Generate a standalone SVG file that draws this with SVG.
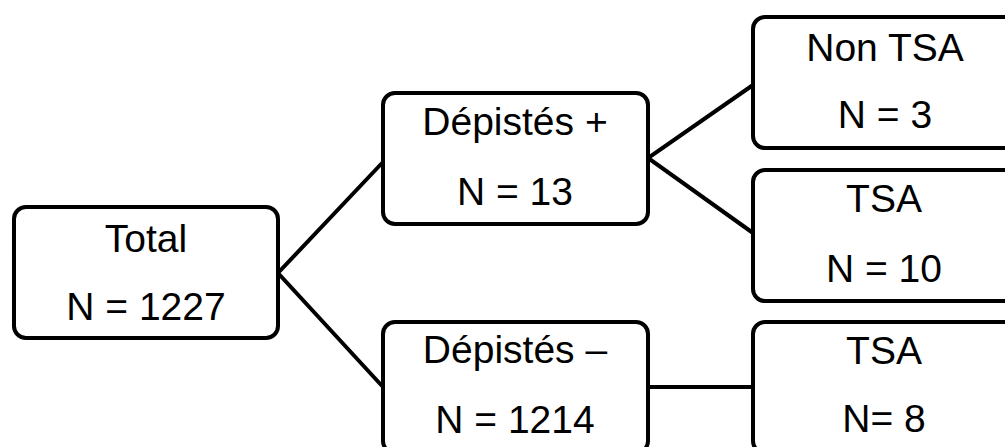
<svg xmlns="http://www.w3.org/2000/svg" width="1005" height="447" viewBox="0 0 1005 447">
<style>
.box{fill:#fff;stroke:#000;stroke-width:4}
.lbl{font-family:"Liberation Sans",Arial,sans-serif;font-size:39px;fill:#000;text-anchor:middle}
.conn{stroke:#000;stroke-width:4;fill:none}
</style>
<rect width="1005" height="447" fill="#fff"/>
<g id="connectors">
<polyline class="conn" points="383,162 278,273 383,387"/>
<polyline class="conn" points="753,85 648,158 753,233"/>
<line class="conn" x1="648" y1="387" x2="753" y2="387"/>
</g>
<g id="total">
<rect class="box" x="14" y="207" width="264" height="131" rx="12"/>
<text class="lbl" x="146" y="252">Total</text>
<text class="lbl" x="146" y="320">N = 1227</text>
</g>
<g id="depistes-plus">
<rect class="box" x="383" y="93" width="265" height="131" rx="12"/>
<text class="lbl" x="515" y="135">Dépistés +</text>
<text class="lbl" x="515" y="205">N = 13</text>
</g>
<g id="depistes-moins">
<rect class="box" x="383" y="322" width="265" height="131" rx="12"/>
<text class="lbl" x="515" y="363">Dépistés –</text>
<text class="lbl" x="515" y="433">N = 1214</text>
</g>
<g id="non-tsa">
<rect class="box" x="753" y="17" width="300" height="131" rx="12"/>
<text class="lbl" x="885" y="61">Non TSA</text>
<text class="lbl" x="885" y="128">N = 3</text>
</g>
<g id="tsa-plus">
<rect class="box" x="753" y="170" width="300" height="131" rx="12"/>
<text class="lbl" x="884" y="212">TSA</text>
<text class="lbl" x="884" y="282">N = 10</text>
</g>
<g id="tsa-moins">
<rect class="box" x="753" y="322" width="300" height="131" rx="12"/>
<text class="lbl" x="884" y="364">TSA</text>
<text class="lbl" x="884" y="432">N= 8</text>
</g>
</svg>
